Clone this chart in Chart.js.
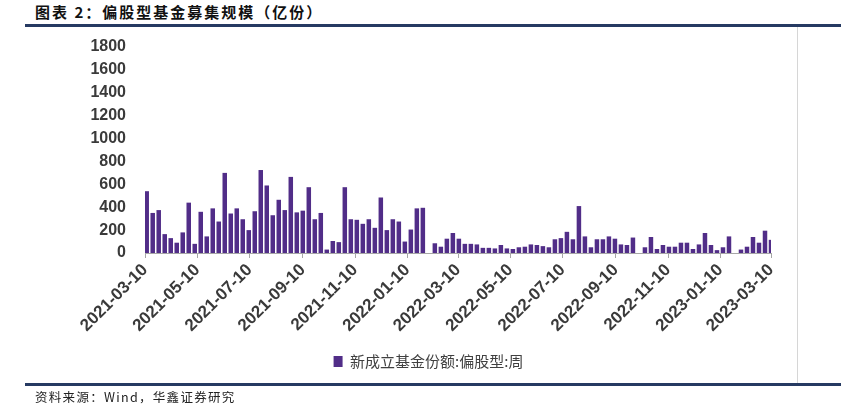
<!DOCTYPE html>
<html>
<head>
<meta charset="utf-8">
<script src="https://cdn.jsdelivr.net/npm/chart.js@4.4.0/dist/chart.umd.min.js"></script>
<style>
  html, body { margin: 0; padding: 0; background: #fff; }
  #wrap { position: relative; width: 841px; height: 414px; overflow: hidden; background: #fff; }
  #chartBox { position: absolute; left: 0; top: 0; width: 841px; height: 414px; }
  .title { position: absolute; left: 35px; top: 4px; line-height: 16px; font-family: "Noto Sans CJK SC"; font-weight: 700; font-size: 15px; letter-spacing: 2px; color: #111; white-space: nowrap; }
  .rule { position: absolute; left: 25px; right: 0; height: 3px; background: #263a62; }
  .frame-right { position: absolute; left: 797px; top: 27px; width: 1px; height: 357px; background: #d6d6d6; }
  .source { position: absolute; left: 35px; top: 390px; line-height: 14px; font-family: "Noto Sans CJK SC"; font-size: 12.5px; letter-spacing: 1.3px; color: #222; white-space: nowrap; }
</style>
</head>
<body>
<div id="wrap">
  <div class="title">图表 2：偏股型基金募集规模（亿份）</div>
  <div class="rule" style="top:24px"></div>
  <div class="frame-right"></div>
  <div id="chartBox"><canvas id="chart"></canvas></div>
  <div class="rule" style="top:383px"></div>
  <div class="source">资料来源：Wind，华鑫证券研究</div>
</div>

<script>
// weekly dates (Fridays)
const weekDates = [
  '2021-03-12','2021-03-19','2021-03-26','2021-04-02','2021-04-09','2021-04-16','2021-04-23','2021-04-30',
  '2021-05-07','2021-05-14','2021-05-21','2021-05-28','2021-06-04','2021-06-11','2021-06-18','2021-06-25',
  '2021-07-02','2021-07-09','2021-07-16','2021-07-23','2021-07-30','2021-08-06','2021-08-13','2021-08-20',
  '2021-08-27','2021-09-03','2021-09-10','2021-09-17','2021-09-24','2021-10-01','2021-10-08','2021-10-15',
  '2021-10-22','2021-10-29','2021-11-05','2021-11-12','2021-11-19','2021-11-26','2021-12-03','2021-12-10',
  '2021-12-17','2021-12-24','2021-12-31','2022-01-07','2022-01-14','2022-01-21','2022-01-28','2022-02-04',
  '2022-02-11','2022-02-18','2022-02-25','2022-03-04','2022-03-11','2022-03-18','2022-03-25','2022-04-01',
  '2022-04-08','2022-04-15','2022-04-22','2022-04-29','2022-05-06','2022-05-13','2022-05-20','2022-05-27',
  '2022-06-03','2022-06-10','2022-06-17','2022-06-24','2022-07-01','2022-07-08','2022-07-15','2022-07-22',
  '2022-07-29','2022-08-05','2022-08-12','2022-08-19','2022-08-26','2022-09-02','2022-09-09','2022-09-16',
  '2022-09-23','2022-09-30','2022-10-07','2022-10-14','2022-10-21','2022-10-28','2022-11-04','2022-11-11',
  '2022-11-18','2022-11-25','2022-12-02','2022-12-09','2022-12-16','2022-12-23','2022-12-30','2023-01-06',
  '2023-01-13','2023-01-20','2023-01-27','2023-02-03','2023-02-10','2023-02-17','2023-02-24','2023-03-03',
  '2023-03-10'
];

// 新成立基金份额:偏股型:周 (亿份)
const newShares = [
  540, 350, 375, 165, 130, 90, 180, 440,
  80, 360, 145, 390, 275, 700, 345, 390,
  295, 200, 365, 725, 590, 330, 465, 375,
  665, 355, 370, 575, 295, 350, 30, 105,
  95, 575, 295, 290, 255, 295, 220, 485,
  200, 295, 275, 100, 205, 390, 395, 0,
  85, 55, 125, 175, 125, 80, 80, 75,
  45, 45, 40, 70, 40, 35, 50, 55,
  75, 70, 60, 50, 120, 130, 185, 120,
  410, 145, 50, 120, 120, 145, 125, 75,
  70, 135, 0, 50, 140, 35, 70, 55,
  55, 90, 90, 35, 75, 175, 70, 25,
  50, 145, 0, 30, 55, 140, 90, 195,
  115
];

const xTickDates = [
  '2021-03-10','2021-05-10','2021-07-10','2021-09-10','2021-11-10','2022-01-10','2022-03-10',
  '2022-05-10','2022-07-10','2022-09-10','2022-11-10','2023-01-10','2023-03-10'
];

const yMin = 0, yMax = 1800, yStep = 200;
const seriesName = '新成立基金份额:偏股型:周';

function dayNum(s) {
  return Date.parse(s + 'T00:00:00Z') / 86400000;
}

const barColor = '#512d88';
const axisGray = '#a6a6a6';
const labelColor = '#3a3a3a';

const points = weekDates.map((d, i) => ({ x: dayNum(d), y: newShares[i] }));

// nudge the legend so it sits where the original one does
const legendShift = {
  id: 'legendShift',
  afterLayout(chart) {
    chart.legend.left += 13;
    chart.legend.right += 13;
  }
};

Chart.defaults.font.family = '"Liberation Sans", Arial, sans-serif';

new Chart(document.getElementById('chart'), {
  type: 'bar',
  data: {
    datasets: [{
      label: seriesName,
      data: points,
      backgroundColor: barColor,
      borderWidth: 0,
      barPercentage: 0.75,
      categoryPercentage: 1.0
    }]
  },
  options: {
    responsive: true,
    maintainAspectRatio: false,
    animation: false,
    layout: { padding: { left: 60, right: 70, top: 47, bottom: 35 } },
    plugins: {
      tooltip: { enabled: false },
      legend: {
        position: 'bottom',
        labels: {
          boxWidth: 9,
          boxHeight: 11,
          padding: 8,
          color: '#404040',
          font: { family: '"Noto Sans CJK SC"', size: 15 }
        }
      }
    },
    scales: {
      x: {
        type: 'linear',
        offset: false,
        min: dayNum(xTickDates[0]),
        max: dayNum(xTickDates[xTickDates.length - 1]),
        afterBuildTicks: (scale) => {
          scale.ticks = xTickDates.map(d => ({ value: dayNum(d) }));
        },
        afterFit: (scale) => { scale.height = 93; },
        border: { display: true, color: axisGray, width: 1 },
        grid: { display: true, offset: false, drawOnChartArea: false, drawTicks: true, tickLength: 5, color: axisGray },
        ticks: {
          autoSkip: false,
          minRotation: 45,
          maxRotation: 45,
          padding: 2,
          color: labelColor,
          font: { size: 17, weight: 'bold' },
          callback: (value, index) => xTickDates[index]
        }
      },
      y: {
        min: yMin,
        max: yMax,
        afterFit: (scale) => { scale.width = 85; },
        border: { display: false },
        grid: { display: false, drawTicks: false },
        ticks: {
          stepSize: yStep,
          padding: 19,
          color: labelColor,
          font: { size: 16, weight: 'bold' },
          callback: (value) => String(value)
        }
      }
    }
  },
  plugins: [legendShift]
});
</script>
</body>
</html>
